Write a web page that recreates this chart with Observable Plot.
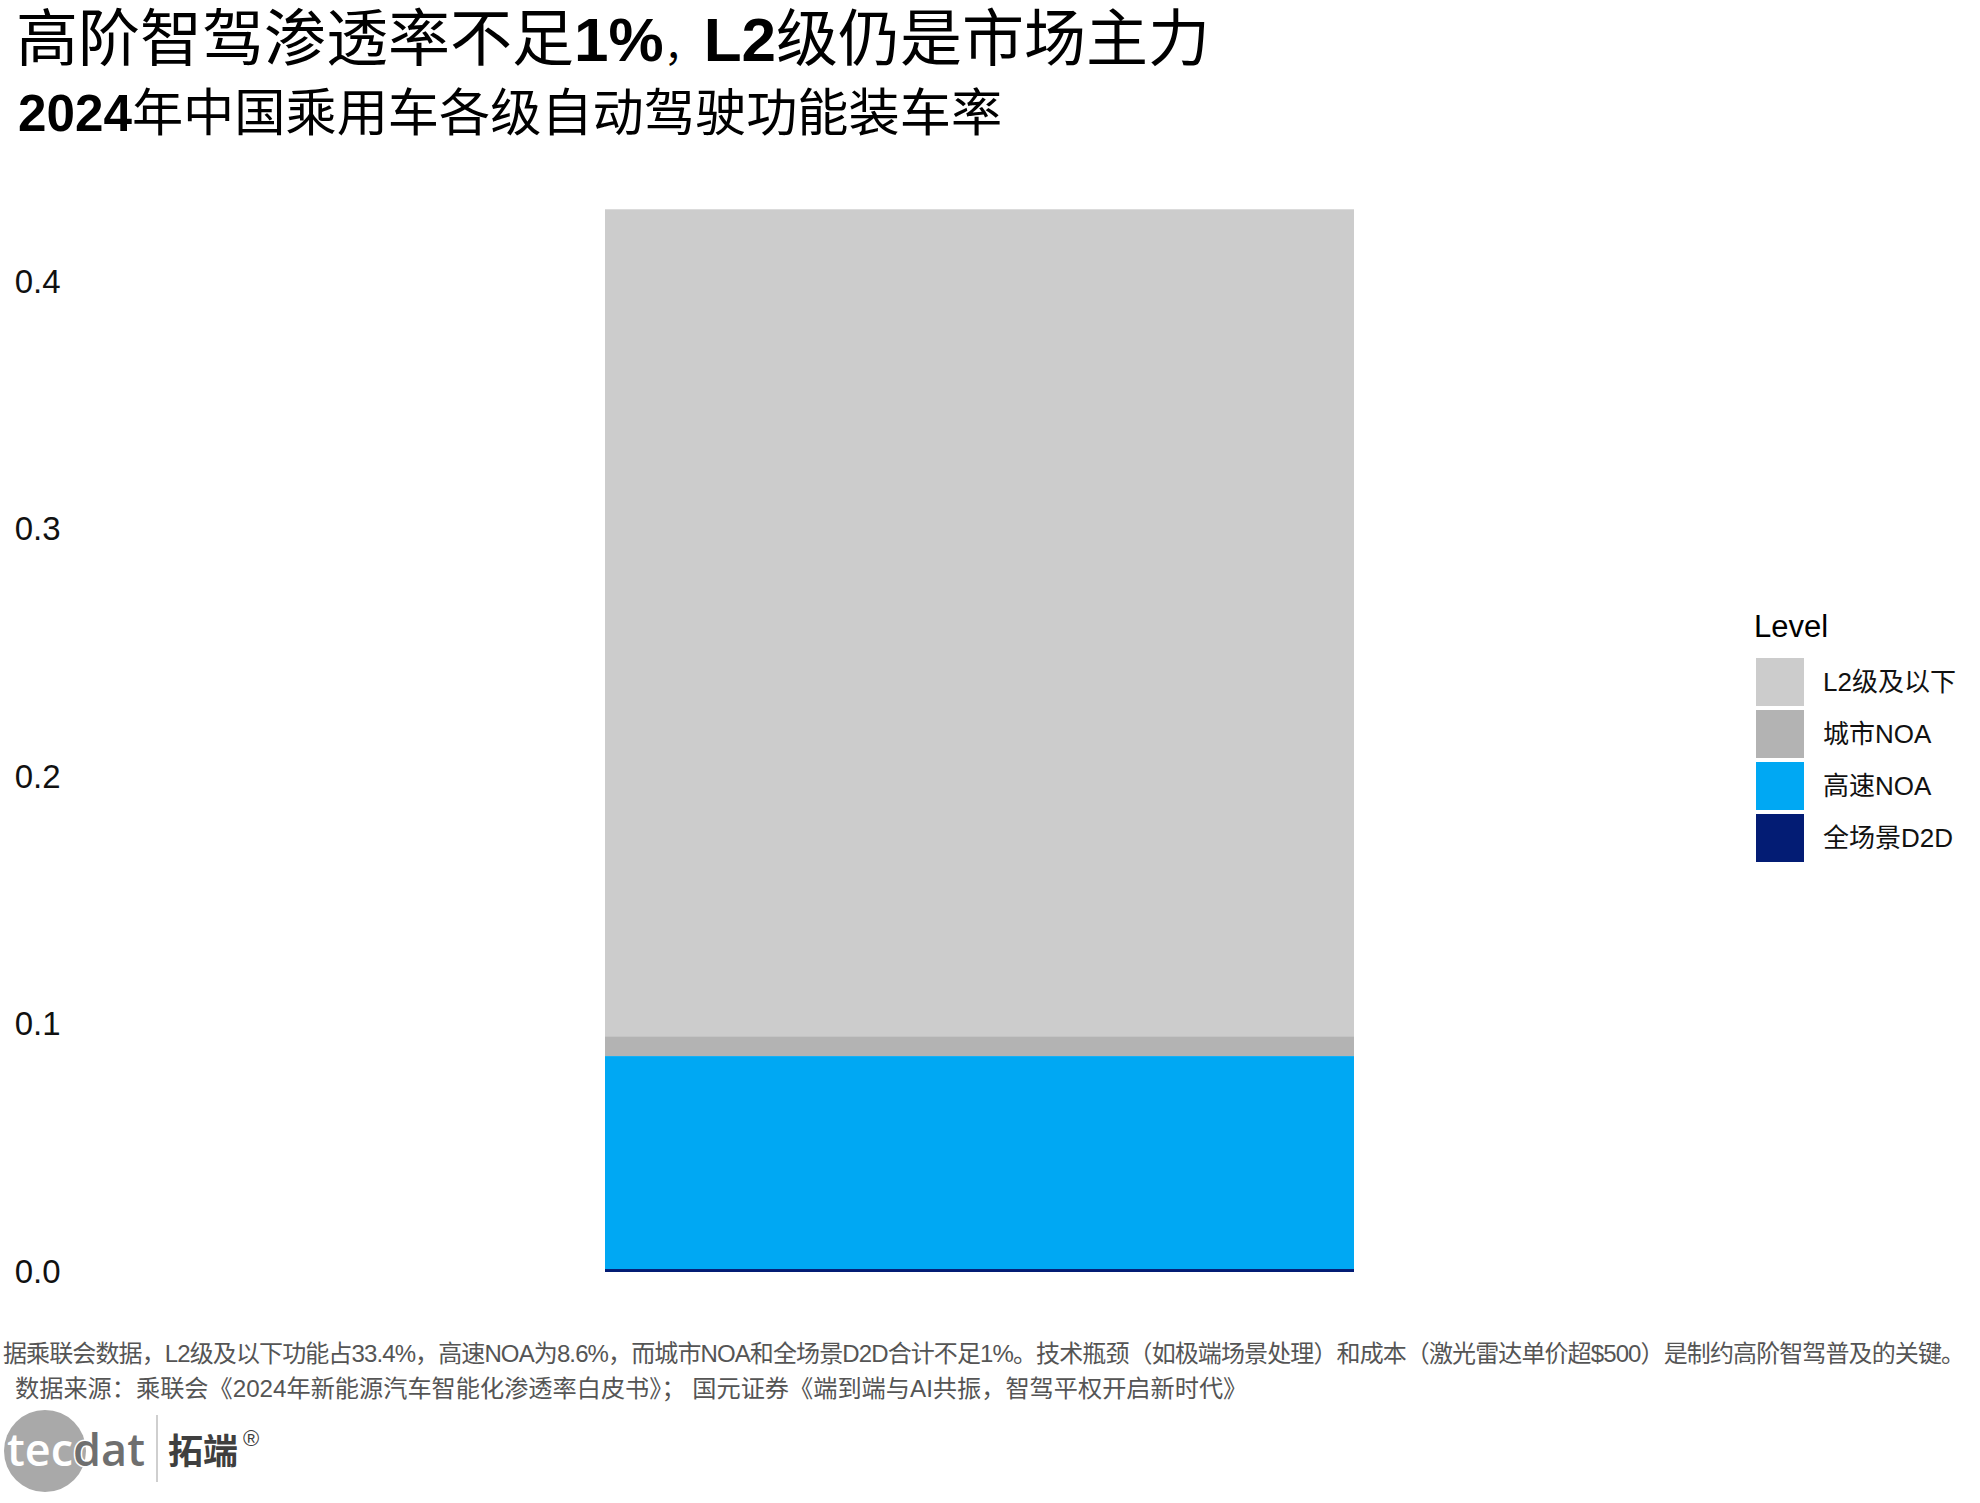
<!DOCTYPE html>
<html><head><meta charset="utf-8">
<script src="https://cdn.jsdelivr.net/npm/d3@7"></script>
<script src="https://cdn.jsdelivr.net/npm/@observablehq/plot@0.6"></script>
<style>
body{margin:0;background:#fff;}
#page{position:relative;width:1980px;height:1503px;overflow:hidden;background:#fff;}
#chart{position:absolute;left:0;top:140px;}
#overlay{position:absolute;left:0;top:0;pointer-events:none;}
</style>
</head><body>
<div id="page"><div id="chart"></div></div>
<script>
// ---- data ----
const category = "2024";
const levels = ["L2级及以下", "城市NOA", "高速NOA", "全场景D2D"];
const rates = [0.334, 0.008, 0.086, 0.0012];
const levelColors = ["#cccccc", "#b3b3b3", "#00a8f3", "#031c74"];
const stackOrder = ["全场景D2D", "高速NOA", "城市NOA", "L2级及以下"];
const yTicks = [0, 0.1, 0.2, 0.3, 0.4];
const titleParts = [["高阶智驾渗透率不足", false], ["1%", true], ["，", false], ["L2", true], ["级仍是市场主力", false]];
const subtitleParts = [["2024", true], ["年中国乘用车各级自动驾驶功能装车率", false]];
const legendTitle = "Level";
const captionLines = [
  "据乘联会数据，L2级及以下功能占33.4%，高速NOA为8.6%，而城市NOA和全场景D2D合计不足1%。技术瓶颈（如极端场景处理）和成本（激光雷达单价超$500）是制约高阶智驾普及的关键。",
  "数据来源：乘联会《2024年新能源汽车智能化渗透率白皮书》； 国元证券《端到端与AI共振，智驾平权开启新时代》"
];

const FONT = '"Liberation Sans", "Noto Sans CJK SC", sans-serif';
const data = levels.map((l, i) => ({Level: l, rate: rates[i], cat: category}));
const CH_TOP = 140;

const chart = Plot.plot({
  width: 1700,
  height: 1200,
  marginLeft: 62, marginRight: 0, marginTop: 0, marginBottom: 0,
  style: {background: "transparent", fontFamily: FONT, color: "#000"},
  x: {domain: [category], range: [605, 1354], padding: 0, axis: null},
  y: {domain: [0, 0.4], range: [1272 - CH_TOP, 281.6 - CH_TOP], label: null},
  color: {domain: levels, range: levelColors},
  marks: [
    Plot.barY(data, Plot.stackY({order: stackOrder}, {x: "cat", y: "rate", fill: "Level"})),
    Plot.axisY({ticks: yTicks, tickFormat: d3.format(".1f"), tickSize: 0, tickPadding: 2,
                fontSize: 33, label: null, fill: "#111"})
  ]
});
document.getElementById("chart").appendChild(chart);
const color = chart.scale("color");

// ---- overlay: titles, legend, caption, logo ----
const svg = d3.select("#page").append("svg").attr("id", "overlay")
  .attr("width", 1980).attr("height", 1503).style("font-family", FONT);

function partsText(parts, x, y, size, sizes) {
  const t = svg.append("text").attr("x", x).attr("y", y).attr("font-size", size).attr("fill", "#000");
  parts.forEach(([s, b], i) => {
    const sp = t.append("tspan").text(s).attr("font-weight", b ? "bold" : "normal");
    if (sizes && sizes[i]) sp.attr("font-size", sizes[i]);
  });
  return t;
}
partsText(titleParts, 16, 61, 62, [0, 0, 40, 0, 0]);
partsText(subtitleParts, 18, 131, 51.2);

// legend
const lg = svg.append("g");
lg.append("text").attr("x", 1754).attr("y", 637).attr("font-size", 31).attr("fill", "#000").text(legendTitle);
levels.forEach((l, i) => {
  const y0 = 658 + i * 52;
  lg.append("rect").attr("x", 1756).attr("y", y0).attr("width", 48).attr("height", 48).attr("fill", color.apply(l));
  lg.append("text").attr("x", 1823).attr("y", y0 + 24).attr("dy", "0.36em")
    .attr("font-size", 26).attr("fill", "#111").text(l);
});

// caption
svg.append("text").attr("x", 3).attr("y", 1362).attr("font-size", 24).attr("fill", "#555")
  .attr("textLength", 1962).attr("lengthAdjust", "spacing").text(captionLines[0]);
svg.append("text").attr("x", 15).attr("y", 1397).attr("font-size", 24.2).attr("fill", "#555").text(captionLines[1]);

// logo
const logo = svg.append("g");
logo.append("circle").attr("cx", 45).attr("cy", 1451).attr("r", 41).attr("fill", "#a9a9a9");
const lt = logo.append("text").attr("x", 7).attr("y", 1466).attr("font-size", 45)
  .attr("font-family", '"Open Sans", "DejaVu Sans", sans-serif').attr("font-weight", 600);
lt.append("tspan").text("tec").attr("fill", "#fff");
lt.append("tspan").text("dat").attr("fill", "#6f6f6f").attr("stroke", "#fff").attr("stroke-width", 3).attr("paint-order", "stroke");
logo.append("line").attr("x1", 157).attr("x2", 157).attr("y1", 1415).attr("y2", 1482).attr("stroke", "#cfcfcf").attr("stroke-width", 2);
logo.append("text").attr("x", 168).attr("y", 1464).attr("font-size", 35).attr("font-weight", "bold")
  .attr("font-family", '"Noto Sans CJK SC", sans-serif').attr("fill", "#3f3f3f").text("拓端");
logo.append("text").attr("x", 243).attr("y", 1446).attr("font-size", 22).attr("fill", "#3f3f3f").text("®");
</script>
</body></html>
